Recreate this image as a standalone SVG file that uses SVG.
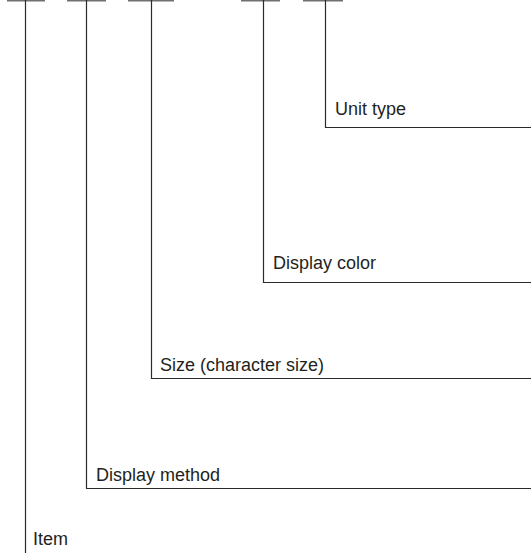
<svg xmlns="http://www.w3.org/2000/svg" width="531" height="553" viewBox="0 0 531 553">
<style>
.ln{fill:none;stroke:#2b2b2b;stroke-width:1.2}
.bar{fill:none;stroke:#707070;stroke-width:1.4}
.lb{font-family:"Liberation Sans",Arial,sans-serif;font-size:18px;fill:#231f20}
</style>
<rect width="531" height="553" fill="#ffffff"/>
<g id="connectors">
<line class="bar" x1="7" y1="0.7" x2="45" y2="0.7"/>
<line class="bar" x1="67" y1="0.7" x2="106" y2="0.7"/>
<line class="bar" x1="128" y1="0.7" x2="174" y2="0.7"/>
<line class="bar" x1="241" y1="0.7" x2="280" y2="0.7"/>
<line class="bar" x1="303" y1="0.7" x2="343" y2="0.7"/>
<polyline class="ln" points="25.5,0 25.5,553"/>
<polyline class="ln" points="86.5,0 86.5,488.5 531,488.5"/>
<polyline class="ln" points="151.5,0 151.5,378.5 531,378.5"/>
<polyline class="ln" points="263.5,0 263.5,282.5 531,282.5"/>
<polyline class="ln" points="325.5,0 325.5,127.5 531,127.5"/>
</g>
<g id="unit-type"><text class="lb" x="335" y="115">Unit type</text></g>
<g id="display-color"><text class="lb" x="273" y="269">Display color</text></g>
<g id="size"><text class="lb" x="160" y="371">Size (character size)</text></g>
<g id="display-method"><text class="lb" x="96" y="481">Display method</text></g>
<g id="item"><text class="lb" x="33" y="545">Item</text></g>
</svg>
